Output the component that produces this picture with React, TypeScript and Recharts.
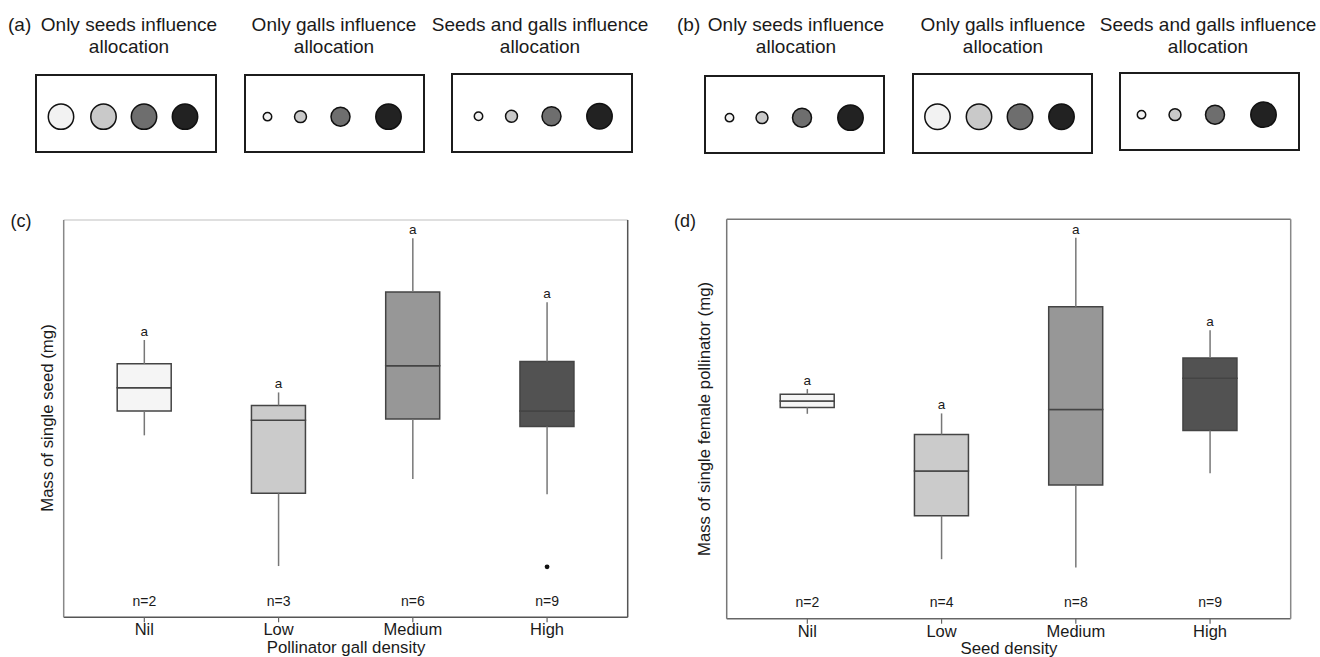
import React from 'react';
import {
  ComposedChart, ScatterChart, Bar, Scatter, ErrorBar, XAxis, YAxis, ZAxis, Cell,
} from 'recharts';

const FONT = '"Liberation Sans", Arial, Helvetica, sans-serif';

// shared categories and colours
const densityLevels = ['Nil', 'Low', 'Medium', 'High'];
const boxFills = ['#f5f5f5', '#cbcbcb', '#979797', '#525252'];
const dotFills = ['#f2f2f2', '#c9c9c9', '#6e6e6e', '#222222'];

// (c) mass of single seed (relative units, y axis has no scale in the figure)
const seedN = [2, 3, 6, 9];
const seedLow = [45.8, 12.9, 34.8, 31.0];
const seedQ1 = [51.9, 31.2, 49.9, 48.0];
const seedMedian = [57.8, 49.6, 63.3, 51.9];
const seedQ3 = [63.8, 53.3, 81.9, 64.4];
const seedHigh = [69.8, 56.6, 95.4, 79.3];
const seedLetters = ['a', 'a', 'a', 'a'];
const seedOutlierCats = ['High'];
const seedOutlierValues = [12.7];

// (d) mass of single female pollinator
const waspN = [2, 4, 8, 9];
const waspLow = [51.3, 14.9, 12.8, 36.4];
const waspQ1 = [52.9, 25.8, 33.5, 47.1];
const waspMedian = [54.5, 37.0, 52.4, 60.2];
const waspQ3 = [56.2, 46.1, 78.1, 65.3];
const waspHigh = [57.5, 51.4, 95.4, 72.2];
const waspLetters = ['a', 'a', 'a', 'a'];
const waspOutlierCats: string[] = [];
const waspOutlierValues: number[] = [];

// schematic panels (a) and (b): relative allocation per density level
const equalAllocation = [1, 1, 1, 1];
const gradedAllocation = [0.11, 0.22, 0.56, 1];
const titlesA = [['Only seeds influence', 'allocation'], ['Only galls influence', 'allocation'], ['Seeds and galls influence', 'allocation']];
const titlesB = [['Only seeds influence', 'allocation'], ['Only galls influence', 'allocation'], ['Seeds and galls influence', 'allocation']];
const dotXa1 = [26, 68.5, 109, 150];
const dotXa2 = [23.5, 56.5, 96.5, 144.5];
const dotXa3 = [27.5, 60.5, 100.5, 148.5];
const dotXb1 = [25.5, 58, 98, 146.5];
const dotXb2 = [25.5, 67, 108, 149.5];
const dotXb3 = [22.5, 56, 96, 144.5];
const dotLevel = 0.46;

const schemes = [
  { left: 35, top: 74, width: 182, height: 79, xs: dotXa1, alloc: equalAllocation, title: titlesA[0], cx: 129 },
  { left: 244, top: 74, width: 181, height: 79, xs: dotXa2, alloc: gradedAllocation, title: titlesA[1], cx: 334 },
  { left: 451, top: 73, width: 182, height: 80, xs: dotXa3, alloc: gradedAllocation, title: titlesA[2], cx: 540 },
  { left: 704, top: 75, width: 181, height: 79, xs: dotXb1, alloc: gradedAllocation, title: titlesB[0], cx: 796 },
  { left: 912, top: 73, width: 181, height: 81, xs: dotXb2, alloc: equalAllocation, title: titlesB[1], cx: 1003 },
  { left: 1119, top: 72, width: 181, height: 79, xs: dotXb3, alloc: gradedAllocation, title: titlesB[2], cx: 1208 },
];

const Scheme = ({ s }: { s: any }) => {
  const data = s.xs.map((x: number, i: number) => ({ x, y: dotLevel, z: s.alloc[i] }));
  return (
    <>
      <div style={{
        position: 'absolute', left: s.left, top: s.top, width: s.width, height: s.height,
        border: '2px solid #1c1c1c', boxSizing: 'border-box',
      }} />
      <div style={{ position: 'absolute', left: s.left, top: s.top }}>
        <ScatterChart width={s.width} height={s.height} margin={{ top: 0, right: 0, bottom: 0, left: 0 }}>
          <XAxis type="number" dataKey="x" domain={[0, s.width]} hide />
          <YAxis type="number" dataKey="y" domain={[0, 1]} hide />
          <ZAxis type="number" dataKey="z" domain={[0, 1]} range={[0, 507]} />
          <Scatter data={data} stroke="#111" strokeWidth={1.5} isAnimationActive={false}>
            {data.map((_: any, i: number) => <Cell key={i} fill={dotFills[i]} />)}
          </Scatter>
        </ScatterChart>
      </div>
      <div style={{
        position: 'absolute', left: s.cx - 150, top: 14, width: 300, textAlign: 'center',
        fontFamily: FONT, fontSize: 19, lineHeight: '22px', color: '#1a1a1a',
      }}>
        {s.title[0]}<br />{s.title[1]}
      </div>
    </>
  );
};

const hidden = () => <g />;

const BoxPanel = (p: any) => {
  const rows = densityLevels.map((cat, i) => ({
    cat, base: p.q1[i], lower: p.median[i] - p.q1[i], upper: p.q3[i] - p.median[i],
  }));
  const upperWhiskers = densityLevels.map((cat, i) => ({ cat, y: p.q3[i], err: [0, p.high[i] - p.q3[i]] }));
  const lowerWhiskers = densityLevels.map((cat, i) => ({ cat, y: p.q1[i], err: [p.q1[i] - p.low[i], 0] }));
  const letters = densityLevels.map((cat, i) => ({ cat, y: p.high[i], letter: p.letters[i] }));
  const outliers = p.outlierCats.map((cat: string, i: number) => ({ cat, y: p.outlierValues[i] }));

  const renderTick = (t: any) => {
    const idx = densityLevels.indexOf(t.payload.value);
    return (
      <g>
        <text x={t.x} y={t.y + 13} textAnchor="middle" fontSize={16.5} fill="#1a1a1a" fontFamily={FONT}>{t.payload.value}</text>
        <text x={t.x} y={t.y - 16.5} textAnchor="middle" fontSize={14} fill="#1a1a1a" fontFamily={FONT}>{`n=${p.ns[idx]}`}</text>
      </g>
    );
  };

  const m = p.margin;
  return (
    <div style={{ position: 'absolute', left: p.left, top: p.top }}>
      <ComposedChart width={p.width} height={p.height} data={rows} margin={{ top: 0, right: 0, bottom: 0, left: 0 }}>
        <XAxis
          dataKey="cat" type="category" allowDuplicatedCategory={false} padding={{ left: 13.5, right: 13.5 }}
          height={m.bottom} interval={0} tickSize={5} tickMargin={0} tick={renderTick}
          axisLine={{ stroke: p.borders.bottom, strokeWidth: 1.5 }} tickLine={{ stroke: '#666', strokeWidth: 1.2 }}
        />
        <XAxis xAxisId="top" orientation="top" type="number" domain={[0, 1]} height={m.top} tick={false} tickLine={false}
          axisLine={{ stroke: p.borders.top, strokeWidth: 1.5 }} />
        <YAxis type="number" domain={[0, 100]} width={m.left} tick={false} tickLine={false}
          axisLine={{ stroke: p.borders.left, strokeWidth: 1.5 }} />
        <YAxis yAxisId="right" orientation="right" type="number" domain={[0, 100]} width={m.right} tick={false} tickLine={false}
          axisLine={{ stroke: p.borders.right, strokeWidth: 1.5 }} />
        <Bar dataKey="base" stackId="box" fillOpacity={0} barSize={54} isAnimationActive={false} />
        <Bar dataKey="lower" stackId="box" stroke="#444" strokeWidth={1.5} barSize={54} isAnimationActive={false}>
          {rows.map((_, i) => <Cell key={i} fill={boxFills[i]} />)}
        </Bar>
        <Bar dataKey="upper" stackId="box" stroke="#444" strokeWidth={1.5} barSize={54} isAnimationActive={false}>
          {rows.map((_, i) => <Cell key={i} fill={boxFills[i]} />)}
        </Bar>
        <Scatter data={upperWhiskers} dataKey="y" shape={hidden} isAnimationActive={false}>
          <ErrorBar dataKey="err" direction="y" width={0} stroke="#777" strokeWidth={1.5} />
        </Scatter>
        <Scatter data={lowerWhiskers} dataKey="y" shape={hidden} isAnimationActive={false}>
          <ErrorBar dataKey="err" direction="y" width={0} stroke="#777" strokeWidth={1.5} />
        </Scatter>
        <Scatter
          data={letters} dataKey="y" isAnimationActive={false}
          shape={(s: any) => (
            <text x={s.cx} y={s.cy - 4} textAnchor="middle" fontSize={13.5} fill="#1a1a1a" fontFamily={FONT}>{s.payload.letter}</text>
          )}
        />
        {outliers.length > 0 && (
          <Scatter
            data={outliers} dataKey="y" isAnimationActive={false}
            shape={(s: any) => <circle cx={s.cx} cy={s.cy} r={2.4} fill="#111" />}
          />
        )}
      </ComposedChart>
    </div>
  );
};

const Txt = ({ x, y, size, children, rotate }: any) => (
  <div style={{
    position: 'absolute', left: x, top: y, transform: `translate(-50%, -50%)${rotate ? ' rotate(-90deg)' : ''}`,
    fontFamily: FONT, fontSize: size, lineHeight: 1, whiteSpace: 'nowrap', color: '#1a1a1a',
  }}>{children}</div>
);

export default function App() {
  return (
    <div style={{ position: 'absolute', left: 0, top: 0, width: 1320, height: 657, background: '#fff', overflow: 'hidden' }}>
      <div style={{ position: 'absolute', left: 8, top: 14, fontFamily: FONT, fontSize: 19, lineHeight: '22px', color: '#1a1a1a' }}>(a)</div>
      <div style={{ position: 'absolute', left: 677, top: 14, fontFamily: FONT, fontSize: 19, lineHeight: '22px', color: '#1a1a1a' }}>(b)</div>
      {schemes.map((s, i) => <Scheme key={i} s={s} />)}

      <BoxPanel
        left={0} top={200} width={660} height={457}
        margin={{ top: 20, right: 32.3, bottom: 39.7, left: 63.7 }}
        low={seedLow} q1={seedQ1} median={seedMedian} q3={seedQ3} high={seedHigh}
        ns={seedN} letters={seedLetters} outlierCats={seedOutlierCats} outlierValues={seedOutlierValues}
        borders={{ left: '#888', bottom: '#555', top: '#d4d4d4', right: '#555' }}
      />
      <BoxPanel
        left={663} top={200} width={657} height={457}
        margin={{ top: 19.3, right: 29.3, bottom: 38.3, left: 63.7 }}
        low={waspLow} q1={waspQ1} median={waspMedian} q3={waspQ3} high={waspHigh}
        ns={waspN} letters={waspLetters} outlierCats={waspOutlierCats} outlierValues={waspOutlierValues}
        borders={{ left: '#777', bottom: '#666', top: '#777', right: '#888' }}
      />

      <Txt x={21} y={221} size={18}>(c)</Txt>
      <Txt x={685} y={221} size={18}>(d)</Txt>
      <Txt x={346} y={648} size={16.8}>Pollinator gall density</Txt>
      <Txt x={1009} y={649} size={16.8}>Seed density</Txt>
      <Txt x={48} y={418} size={16.8} rotate>Mass of single seed (mg)</Txt>
      <Txt x={705} y={419} size={16.8} rotate>Mass of single female pollinator (mg)</Txt>
    </div>
  );
}
